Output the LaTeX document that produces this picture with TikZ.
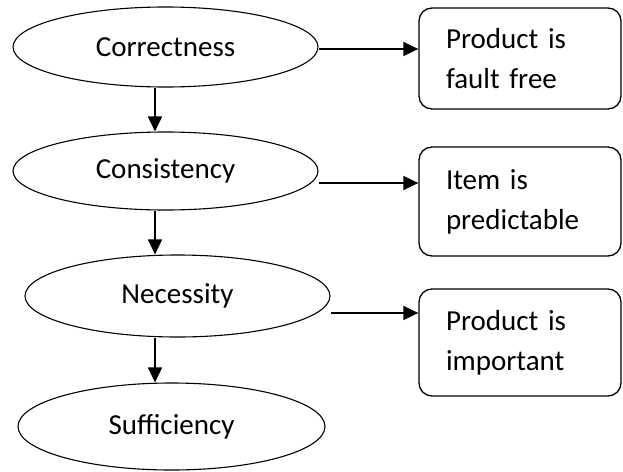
\documentclass[tikz,border=0pt]{standalone}
\usepackage{fontspec}
\setmainfont{Carlito}
\usetikzlibrary{shapes.geometric,arrows.meta}
\begin{document}
\begin{tikzpicture}[x=1pt,y=-1pt,
  oval/.style={draw,ellipse,line width=1.1pt,inner sep=0pt,minimum width=305pt,font=\fontsize{29}{35}\selectfont},
  infobox/.style={draw,rounded corners=13pt,line width=1.3pt,inner xsep=27pt,inner ysep=0pt,text width=148pt,align=left,font=\fontsize{29}{40}\selectfont},
  conn/.style={line width=1.7pt,-{Triangle[length=15pt,width=14pt]}}]
\useasboundingbox (0,0) rectangle (623,471);
\node[oval,minimum height=80pt] (e1) at (165.5,47) {Correctness};
\node[oval,minimum height=78pt] (e2) at (165.5,171) {Consistency};
\node[oval,minimum height=82pt] (e3) at (177.5,296) {Necessity};
\node[oval,minimum height=87pt,minimum width=307pt] (e4) at (171.5,426.5) {Sufficiency};
\node[infobox,minimum height=101pt] (b1) at (520,58.5) {Product is\\fault free};
\node[infobox,minimum height=109pt] (b2) at (520,201.5) {Item is\\predictable};
\node[infobox,minimum height=107pt] (b3) at (520,342.5) {Product is\\important};
\coordinate (vx) at (155,0);
\draw[conn] (e1.south -| vx) -- (e2.north -| vx);
\draw[conn] (e2.south -| vx) -- (e3.north -| vx);
\draw[conn] (e3.south -| vx) -- (e4.north -| vx);
\draw[conn] ([yshift=-2pt]e1.east) -- ([yshift=-2pt]e1.east -| b1.west);
\draw[conn] ([yshift=-12pt]e2.east) -- ([yshift=-12pt]e2.east -| b2.west);
\draw[conn] ([yshift=-17pt]e3.east) -- ([yshift=-17pt]e3.east -| b3.west);
\end{tikzpicture}
\end{document}
